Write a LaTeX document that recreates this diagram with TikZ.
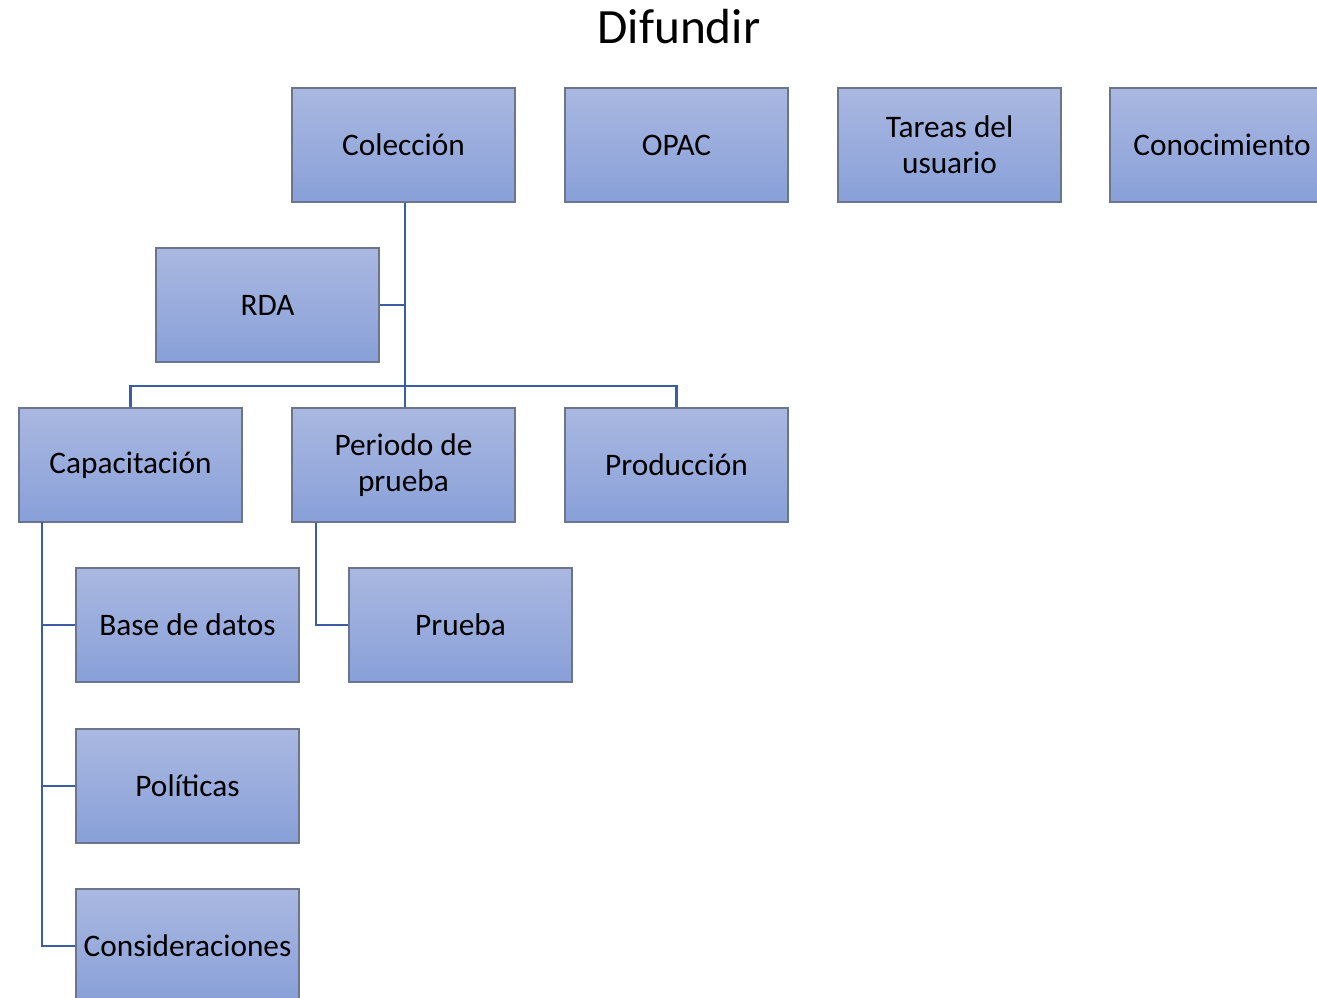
\documentclass[tikz,border=0pt]{standalone}
\usepackage{fontspec}
\setmainfont{Carlito}
\definecolor{boxtop}{HTML}{AAB8E1}
\definecolor{boxbot}{HTML}{88A0D8}
\definecolor{boxedge}{HTML}{6B768C}
\definecolor{linkc}{HTML}{3B5DA3}
\begin{document}
\begin{tikzpicture}[x=0.75pt,y=-0.75pt,
  box/.style={draw=boxedge,line width=1.3pt,top color=boxtop,bottom color=boxbot,
    minimum width=167.5pt,minimum height=85.5pt,inner sep=1pt,align=center,
    font=\fontsize{23.5}{27}\selectfont,text=black,anchor=center},
  link/.style={draw=linkc,line width=1.9pt}]
\clip (0,0) rectangle (1317,997);
\fill[white] (0,0) rectangle (1317,997);
\node[font=\fontsize{37}{42}\selectfont] (title) at (679,27) {Difundir};
\node[box] (col) at (403.5,145) {Colección};
\node[box] (opac) at (676.5,145) {OPAC};
\node[box] (tar) at (949.5,145) {Tareas del\\usuario};
\node[box] (con) at (1222,145) {Conocimiento};
\node[box] (rda) at (267.5,305) {RDA};
\node[box] (cap) at (130.5,465) {Capacitación};
\node[box] (per) at (403.5,465) {Periodo de\\prueba};
\node[box] (pro) at (676.5,465) {Producción};
\node[box] (bd) at (187.5,625) {Base de datos};
\node[box] (pru) at (460.5,625) {Prueba};
\node[box] (pol) at (187.5,786) {Políticas};
\node[box] (cons) at (187.5,946) {Consideraciones};
\coordinate (hub) at (405,386);
\coordinate (capv) at (42,522);
\draw[link] (col.south -| hub) -- (hub);
\draw[link] (rda.east) -- (rda.east -| hub);
\draw[link] (cap.north) |- (hub) -| (pro.north);
\draw[link] (hub) -- (per.north -| hub);
\draw[link] (capv) |- (bd.west);
\draw[link] (capv) |- (pol.west);
\draw[link] (capv) |- (cons.west);
\draw[link] (per.south -| 316,0) |- (pru.west);
\end{tikzpicture}
\end{document}
